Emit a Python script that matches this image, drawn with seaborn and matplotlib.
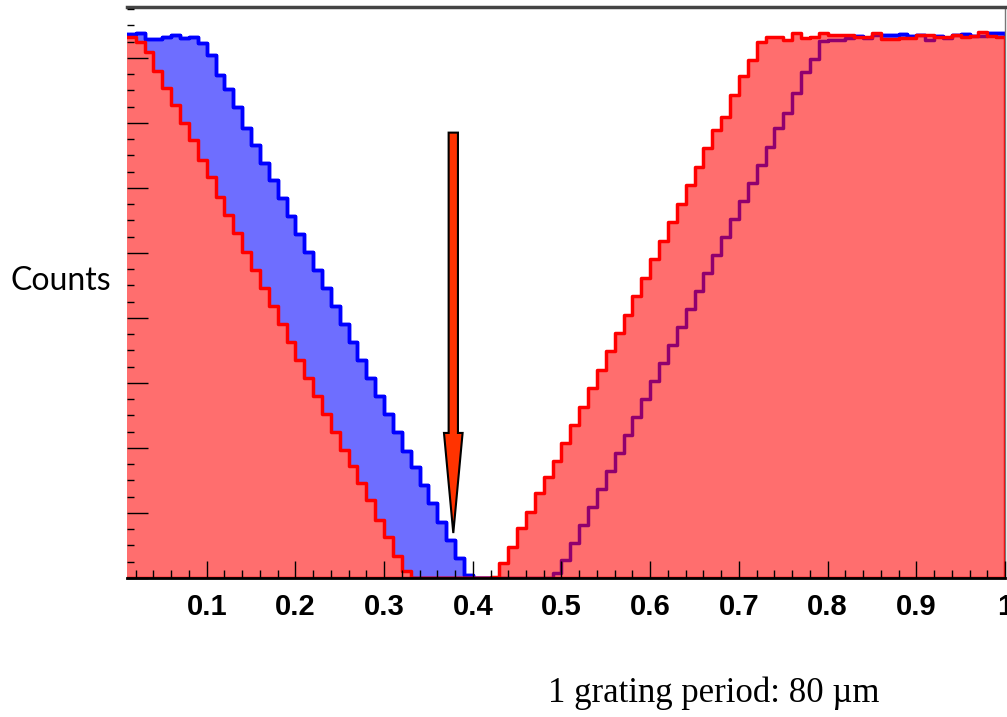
import numpy as np
import matplotlib
matplotlib.use("Agg")
import matplotlib.pyplot as plt
from matplotlib.ticker import MultipleLocator
import pandas as pd
import seaborn as sns

# bins of 0.01 over one grating period (0 .. 1)
bin_edges = [round(v, 2) for v in np.linspace(0.0, 1.0, 101)]
bin_centers = [round(e + 0.005, 3) for e in bin_edges[:-1]]

# counts per bin
blue_counts = [
    837, 837, 838, 829, 829, 832, 835, 831, 832, 823,
    805, 774, 752, 725, 692, 666, 638, 612, 585, 557,
    529, 502, 474, 446, 418, 391, 363, 335, 308, 280,
    252, 225, 195, 171, 143, 115, 86, 58, 31, 5,
    0, 0, 0, 0, 0, 0, 0, 0, 0, 8,
    28, 54, 82, 109, 137, 165, 192, 220, 248, 275,
    303, 331, 358, 386, 414, 442, 469, 497, 525, 552,
    580, 608, 635, 663, 692, 715, 746, 778, 798, 826,
    828, 828, 831, 834, 831, 835, 835, 835, 837, 834,
    835, 828, 834, 831, 835, 837, 834, 834, 838, 838,
]
red_counts = [
    832, 832, 825, 809, 780, 754, 728, 700, 674, 643,
    617, 586, 558, 531, 502, 474, 446, 418, 391, 363,
    335, 308, 280, 252, 225, 197, 172, 146, 120, 89,
    63, 34, 11, 0, 0, 0, 0, 0, 0, 0,
    0, 0, 2, 23, 48, 77, 102, 131, 155, 180,
    208, 235, 263, 292, 320, 349, 377, 405, 434, 462,
    491, 518, 548, 575, 605, 632, 662, 689, 709, 743,
    772, 797, 825, 832, 832, 828, 838, 831, 832, 838,
    835, 835, 835, 832, 832, 838, 829, 829, 831, 831,
    835, 835, 832, 832, 835, 832, 834, 840, 834, 832,
]
xtick_values = [0.1, 0.2, 0.3, 0.4, 0.5, 0.6, 0.7, 0.8, 0.9, 1.0]
xtick_labels = ["0.1", "0.2", "0.3", "0.4", "0.5", "0.6", "0.7", "0.8", "0.9", "1"]
arrow_x = 0.378
arrow_top, arrow_tip = 685, 69

df = pd.DataFrame({"pos": bin_centers, "blue": blue_counts, "red": red_counts})

sns.set_style("ticks")
plt.rcParams["font.family"] = ["DejaVu Sans"]

fig = plt.figure(figsize=(10.07, 7.17), dpi=100)
ax = fig.add_axes([0.126, 0.194, 0.872, 0.796])

hist_kws = dict(data=df, x="pos", bins=bin_edges, element="step", ax=ax)

# blue histogram (fill + outline)
sns.histplot(weights="blue", fill=True, color="blue", alpha=0.57,
             linewidth=2.5, zorder=1.0, **hist_kws)
# white underlay so the red pattern sits on white
sns.histplot(weights="red", fill=True, color="white", alpha=1.0,
             linewidth=0, zorder=1.1, **hist_kws)
# blue outline again, shows through the red as purple
sns.histplot(weights="blue", fill=False, color="blue",
             linewidth=2.5, zorder=1.2, **hist_kws)
# red histogram on top
sns.histplot(weights="red", fill=True, color="red", alpha=0.57,
             linewidth=2.5, zorder=1.3, **hist_kws)

ax.arrow(arrow_x, arrow_top, 0, arrow_tip - arrow_top, width=0.0105,
         head_width=0.021, head_length=154, length_includes_head=True,
         fc="#ff3300", ec="black", lw=1.5, zorder=2)

ax.set_xlim(0.01, 1.0)
ax.set_ylim(0, 878)
ax.set_xlabel("")
ax.set_ylabel("")
ax.set_axisbelow(False)

ax.set_xticks(xtick_values)
ax.set_xticklabels(xtick_labels, fontsize=21, fontweight="bold", color="black",
                   family=["Liberation Sans Narrow", "Liberation Sans"])
ax.xaxis.set_minor_locator(MultipleLocator(0.02))
ax.yaxis.set_major_locator(MultipleLocator(100))
ax.yaxis.set_minor_locator(MultipleLocator(25))
ax.set_yticklabels([])
ax.tick_params(axis="both", which="both", color="black")
ax.tick_params(axis="x", which="major", direction="in", length=12, width=1, pad=11)
ax.tick_params(axis="x", which="minor", direction="in", length=6, width=1)
ax.tick_params(axis="y", which="major", direction="in", length=15, width=1)
ax.tick_params(axis="y", which="minor", direction="in", length=5, width=1)

ax.spines["left"].set_visible(False)
ax.spines["bottom"].set_linewidth(2)
ax.spines["bottom"].set_color("black")
ax.spines["top"].set_linewidth(2.5)
ax.spines["top"].set_color("#444444")
ax.spines["right"].set_linewidth(1)
ax.spines["right"].set_color("#777777")

fig.text(61 / 1007, 1 - 281 / 717, "Counts", ha="center", va="center",
         fontsize=23, color="black", family=["Lato", "DejaVu Sans"])
fig.text(714 / 1007, 1 - 693 / 717, "1 grating period: 80 \u00b5m", ha="center",
         va="center", fontsize=25, color="black",
         family=["Liberation Serif", "DejaVu Serif"])

fig.savefig("out.png", dpi=100)
